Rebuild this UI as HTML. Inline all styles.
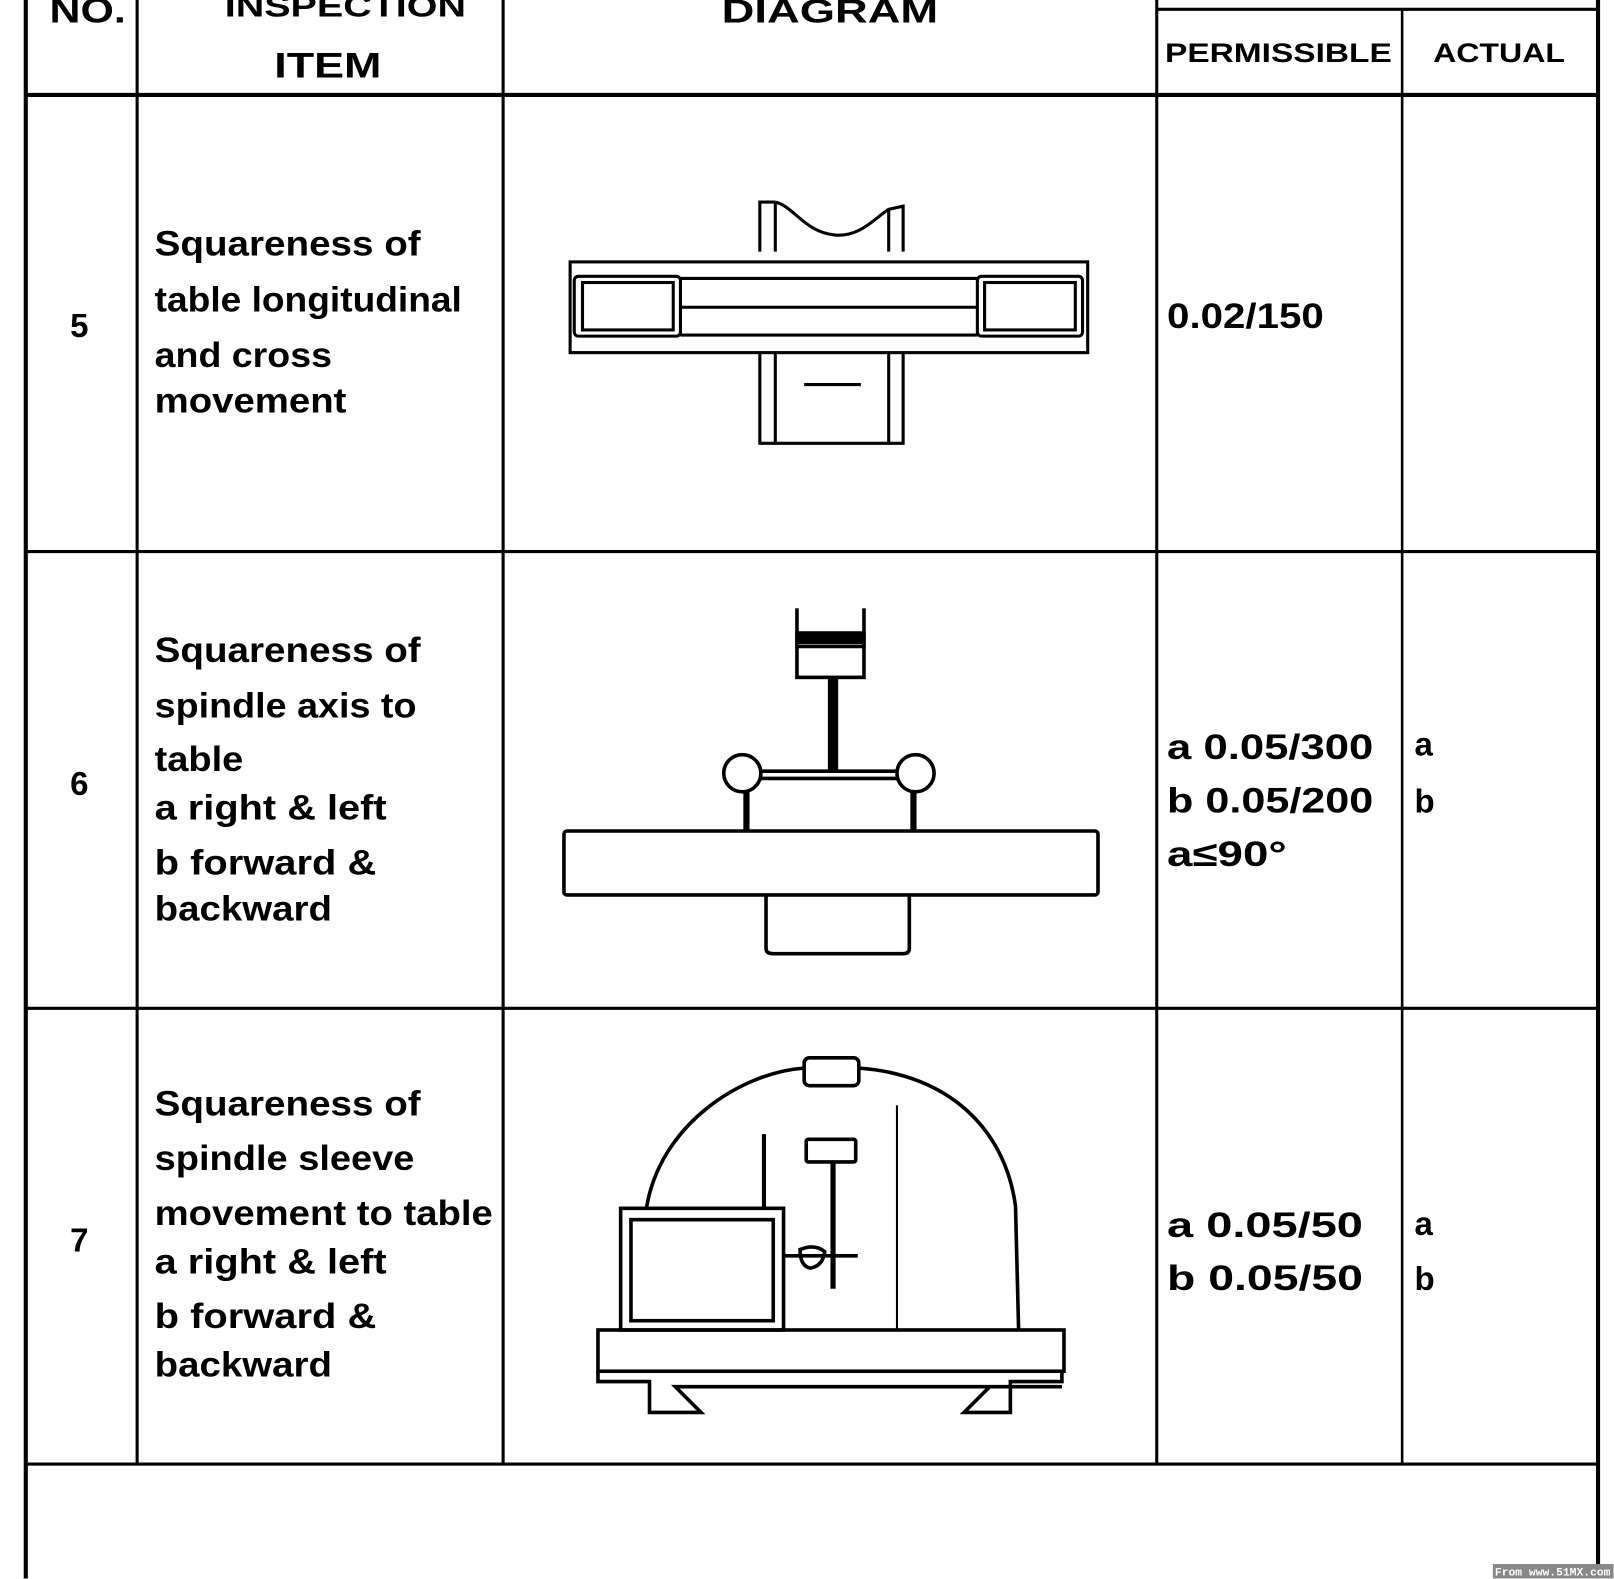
<!DOCTYPE html>
<html><head><meta charset="utf-8"><style>
html,body{margin:0;padding:0;background:#fff;}
svg{display:block;}
text{font-family:"Liberation Sans",Arial,sans-serif;font-weight:bold;fill:#000;}
</style></head><body>
<svg width="1614" height="1579" viewBox="0 0 1565.5 1531.5" xmlns="http://www.w3.org/2000/svg">
<g stroke="#000" fill="none">
<!-- table grid -->
<line x1="25" y1="0" x2="25" y2="1531" stroke-width="4"/>
<line x1="133" y1="0" x2="133" y2="1420" stroke-width="3"/>
<line x1="488" y1="0" x2="488" y2="1420" stroke-width="3"/>
<line x1="1122" y1="0" x2="1122" y2="1420" stroke-width="3"/>
<line x1="1360" y1="10" x2="1360" y2="1420" stroke-width="2.5"/>
<line x1="1550" y1="0" x2="1550" y2="1531" stroke-width="4"/>
<line x1="1122" y1="9" x2="1550" y2="9" stroke-width="3"/>
<line x1="25" y1="92" x2="1550" y2="92" stroke-width="4"/>
<line x1="25" y1="535" x2="1550" y2="535" stroke-width="3"/>
<line x1="25" y1="978" x2="1550" y2="978" stroke-width="3"/>
<line x1="25" y1="1420" x2="1550" y2="1420" stroke-width="3"/>

<!-- diagram 5 -->
<g stroke-width="3">
<path d="M737,244 L737,196 L752,196 M752,196 C770,200 780,225 810,228 C835,230 850,210 862,203 L876,200 L876,244"/>
<line x1="752" y1="196" x2="752" y2="244"/>
<line x1="862" y1="203" x2="862" y2="244"/>
<rect x="553" y="254" width="502" height="88"/>
<rect x="557" y="268" width="103" height="58" rx="4"/>
<rect x="565" y="274" width="88" height="46"/>
<rect x="948" y="268" width="102" height="58" rx="4"/>
<rect x="955" y="274" width="88" height="46"/>
<line x1="660" y1="270" x2="948" y2="270"/>
<line x1="660" y1="298" x2="948" y2="298"/>
<line x1="660" y1="325" x2="948" y2="325"/>
<path d="M737,342 L737,430 L876,430 L876,342"/>
<line x1="752" y1="342" x2="752" y2="430"/>
<line x1="862" y1="342" x2="862" y2="430"/>
<line x1="780" y1="373" x2="835" y2="373"/>
</g>

<!-- diagram 6 -->
<g stroke-width="3.5">
<line x1="773" y1="590" x2="773" y2="628"/>
<line x1="838" y1="590" x2="838" y2="628"/>
<rect x="773" y="614" width="65" height="9" fill="#000"/>
<rect x="773" y="627" width="65" height="30"/>
<rect x="803" y="657" width="10" height="92" fill="#000" stroke="none"/>
<circle cx="720" cy="750" r="18"/>
<circle cx="888" cy="750" r="18"/>
<line x1="738" y1="748" x2="870" y2="748"/>
<line x1="738" y1="755" x2="870" y2="755"/>
<line x1="724" y1="768" x2="724" y2="806" stroke-width="6"/>
<line x1="886" y1="768" x2="886" y2="806" stroke-width="6"/>
<rect x="547" y="806" width="518" height="62" rx="3"/>
<path d="M743,868 L743,920 Q743,925 750,925 L876,925 Q882,925 882,920 L882,868"/>
</g>

<!-- diagram 7 -->
<g stroke-width="3.5">
<path d="M627,1172 C640,1090 720,1040 780,1036 M833,1036 C920,1042 975,1095 985,1170 L988,1290"/>
<rect x="780" y="1026" width="53" height="27" rx="5"/>
<line x1="741" y1="1100" x2="741" y2="1172" stroke-width="4"/>
<line x1="870" y1="1072" x2="870" y2="1290" stroke-width="2"/>
<rect x="782" y="1105" width="48" height="22" rx="2"/>
<line x1="808" y1="1127" x2="808" y2="1250" stroke-width="5"/>
<rect x="602" y="1172" width="158" height="118"/>
<rect x="612" y="1183" width="138" height="98"/>
<line x1="760" y1="1218" x2="832" y2="1218"/>
<path d="M776,1212 Q790,1206 800,1214 Q798,1228 786,1230 Q776,1228 776,1212 Z"/>
<rect x="580" y="1290" width="452" height="40"/>
<path d="M580,1330 L580,1340 L630,1340 L630,1370 L680,1370 L655,1345 L1030,1345 M1030,1330 L1030,1340 L980,1340 L980,1370 L935,1370 L960,1345"/>
</g>
</g>

<!-- header text -->
<text x="48" y="22" font-size="34" textLength="74" lengthAdjust="spacingAndGlyphs">NO.</text>
<text x="218" y="16" font-size="30" textLength="234" lengthAdjust="spacingAndGlyphs">INSPECTION</text>
<text x="266" y="75" font-size="34" textLength="104" lengthAdjust="spacingAndGlyphs">ITEM</text>
<text x="700" y="22" font-size="32" textLength="210" lengthAdjust="spacingAndGlyphs">DIAGRAM</text>
<text x="1130" y="60" font-size="26" textLength="220" lengthAdjust="spacingAndGlyphs">PERMISSIBLE</text>
<text x="1390" y="60" font-size="26" textLength="128" lengthAdjust="spacingAndGlyphs">ACTUAL</text>

<!-- row 5 -->
<text x="68" y="327" font-size="32">5</text>
<text x="150" y="248" font-size="34" textLength="258" lengthAdjust="spacingAndGlyphs">Squareness of</text>
<text x="150" y="302" font-size="34" textLength="298" lengthAdjust="spacingAndGlyphs">table longitudinal</text>
<text x="150" y="356" font-size="34" textLength="172" lengthAdjust="spacingAndGlyphs">and cross</text>
<text x="150" y="400" font-size="34" textLength="186" lengthAdjust="spacingAndGlyphs">movement</text>
<text x="1132" y="318" font-size="34" textLength="152" lengthAdjust="spacingAndGlyphs">0.02/150</text>

<!-- row 6 -->
<text x="68" y="771" font-size="32">6</text>
<text x="150" y="642" font-size="34" textLength="258" lengthAdjust="spacingAndGlyphs">Squareness of</text>
<text x="150" y="696" font-size="34" textLength="254" lengthAdjust="spacingAndGlyphs">spindle axis to</text>
<text x="150" y="748" font-size="34" textLength="86" lengthAdjust="spacingAndGlyphs">table</text>
<text x="150" y="795" font-size="34" textLength="225" lengthAdjust="spacingAndGlyphs">a  right &amp; left</text>
<text x="150" y="848" font-size="34" textLength="215" lengthAdjust="spacingAndGlyphs">b  forward &amp;</text>
<text x="150" y="893" font-size="34" textLength="172" lengthAdjust="spacingAndGlyphs">backward</text>
<text x="1132" y="736" font-size="34" textLength="200" lengthAdjust="spacingAndGlyphs">a  0.05/300</text>
<text x="1132" y="788" font-size="34" textLength="200" lengthAdjust="spacingAndGlyphs">b  0.05/200</text>
<text x="1132" y="840" font-size="34" textLength="116" lengthAdjust="spacingAndGlyphs">a≤90°</text>
<text x="1372" y="733" font-size="32">a</text>
<text x="1372" y="788" font-size="32">b</text>

<!-- row 7 -->
<text x="68" y="1214" font-size="32">7</text>
<text x="150" y="1082" font-size="34" textLength="258" lengthAdjust="spacingAndGlyphs">Squareness of</text>
<text x="150" y="1135" font-size="34" textLength="252" lengthAdjust="spacingAndGlyphs">spindle sleeve</text>
<text x="150" y="1188" font-size="34" textLength="328" lengthAdjust="spacingAndGlyphs">movement to table</text>
<text x="150" y="1235" font-size="34" textLength="225" lengthAdjust="spacingAndGlyphs">a  right &amp; left</text>
<text x="150" y="1288" font-size="34" textLength="215" lengthAdjust="spacingAndGlyphs">b  forward &amp;</text>
<text x="150" y="1335" font-size="34" textLength="172" lengthAdjust="spacingAndGlyphs">backward</text>
<text x="1132" y="1200" font-size="34" textLength="190" lengthAdjust="spacingAndGlyphs">a   0.05/50</text>
<text x="1132" y="1251" font-size="34" textLength="190" lengthAdjust="spacingAndGlyphs">b   0.05/50</text>
<text x="1372" y="1198" font-size="32">a</text>
<text x="1372" y="1251" font-size="32">b</text>

<!-- watermark -->
<rect x="1448" y="1517" width="117" height="14" fill="#888"/>
<text x="1450" y="1528" font-size="11" style="fill:#fff;font-family:'Liberation Mono',monospace">From www.51MX.com</text>
</svg>
</body></html>
